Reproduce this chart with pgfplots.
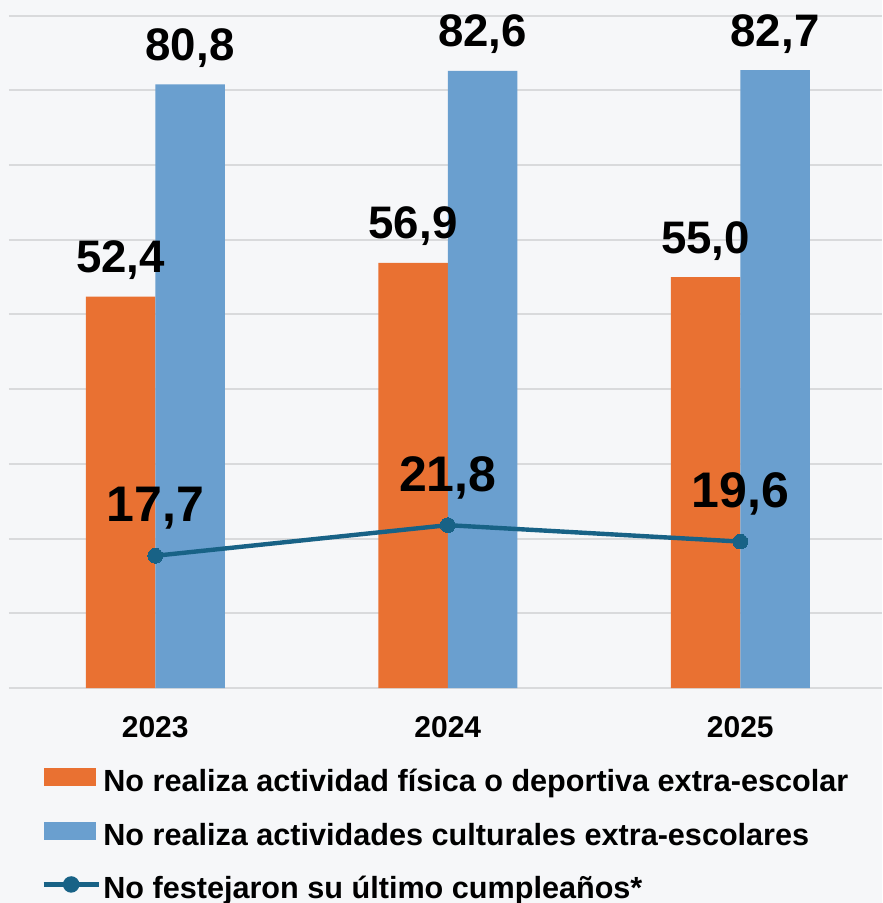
\documentclass[border=0pt]{standalone}
\usepackage{fontspec}
\setmainfont{Liberation Sans}
\usepackage{pgfplots}
\pgfplotsset{compat=1.18}
\definecolor{bg}{HTML}{F6F7F9}
\definecolor{gridc}{HTML}{D9DADC}
\definecolor{c1}{HTML}{E97132}
\definecolor{c2}{HTML}{6A9FCF}
\definecolor{c3}{HTML}{186286}
\begin{document}
\begin{tikzpicture}
\fill[bg] (-4.5pt,-107.5pt) rectangle (436.5pt,344pt);
\begin{axis}[
  at={(0,0)}, anchor=south west,
  scale only axis, width=436.5pt, height=344pt,
  xmin=-0.5, xmax=2.4846, ymin=0, ymax=92.1,
  axis line style={draw=none},
  tick style={draw=none},
  ymajorgrids,
  major grid style={gridc, line width=1pt},
  ytick={0,10,...,90}, yticklabels={},
  xtick={0,1,2}, xticklabels={2023,2024,2025},
  xticklabel style={font=\fontsize{15}{18}\selectfont\bfseries, anchor=base, yshift=-24.5pt},
  /pgf/number format/assume math mode=true,
  /pgf/number format/.cd, fixed, fixed zerofill, precision=1, use comma,
  /pgfplots/.cd,
  clip=false,
  legend cell align=left,
  legend style={at={(axis description cs:0.0372,-0.1155)}, anchor=north west,
    draw=none, fill=none, inner sep=0pt, outer sep=0pt, row sep=9.75pt,
    font=\fontsize{15.3}{18}\selectfont\bfseries,
    nodes={inner sep=1.25pt, text height=11pt, text depth=3.5pt}},
]
\addplot[ybar, bar width=0.2376, bar shift=-0.1188, fill=c1, draw=none,
  nodes near coords,
  every node near coord/.append style={anchor=base, xshift=-17.37pt, yshift=12pt, text=black, font=\fontsize{22.8}{26}\selectfont\bfseries},
  legend image code/.code={\fill[c1] (0pt,-1pt) rectangle (26pt,8pt);}]
  coordinates {(0,52.4) (1,56.9) (2,55.0)};
\addlegendentry{No realiza actividad física o deportiva extra-escolar}
\addplot[ybar, bar width=0.2376, bar shift=0.1188, fill=c2, draw=none,
  nodes near coords,
  every node near coord/.append style={anchor=base, xshift=17.37pt, yshift=12pt, text=black, font=\fontsize{22.8}{26}\selectfont\bfseries},
  legend image code/.code={\fill[c2] (0pt,-1pt) rectangle (26pt,8pt);}]
  coordinates {(0,80.8) (1,82.6) (2,82.7)};
\addlegendentry{No realiza actividades culturales extra-escolares}
\addplot[c3, line width=2.2pt, mark=*, mark size=3.7pt, mark options={fill=c3, draw=c3, line width=0pt},
  nodes near coords,
  every node near coord/.append style={anchor=base, yshift=17pt, text=black, font=\fontsize{25}{28}\selectfont\bfseries},
  legend image code/.code={\draw[c3, line width=2.2pt] (0pt,3.5pt) -- (27.5pt,3.5pt); \fill[c3] (13.75pt,3.5pt) circle (3pt);}]
  coordinates {(0,17.7) (1,21.8) (2,19.6)};
\addlegendentry{No festejaron su último cumpleaños*}
\end{axis}
\pgfresetboundingbox
\path[use as bounding box] (-4.5pt,-107.5pt) rectangle (436.5pt,344pt);
\end{tikzpicture}
\end{document}
